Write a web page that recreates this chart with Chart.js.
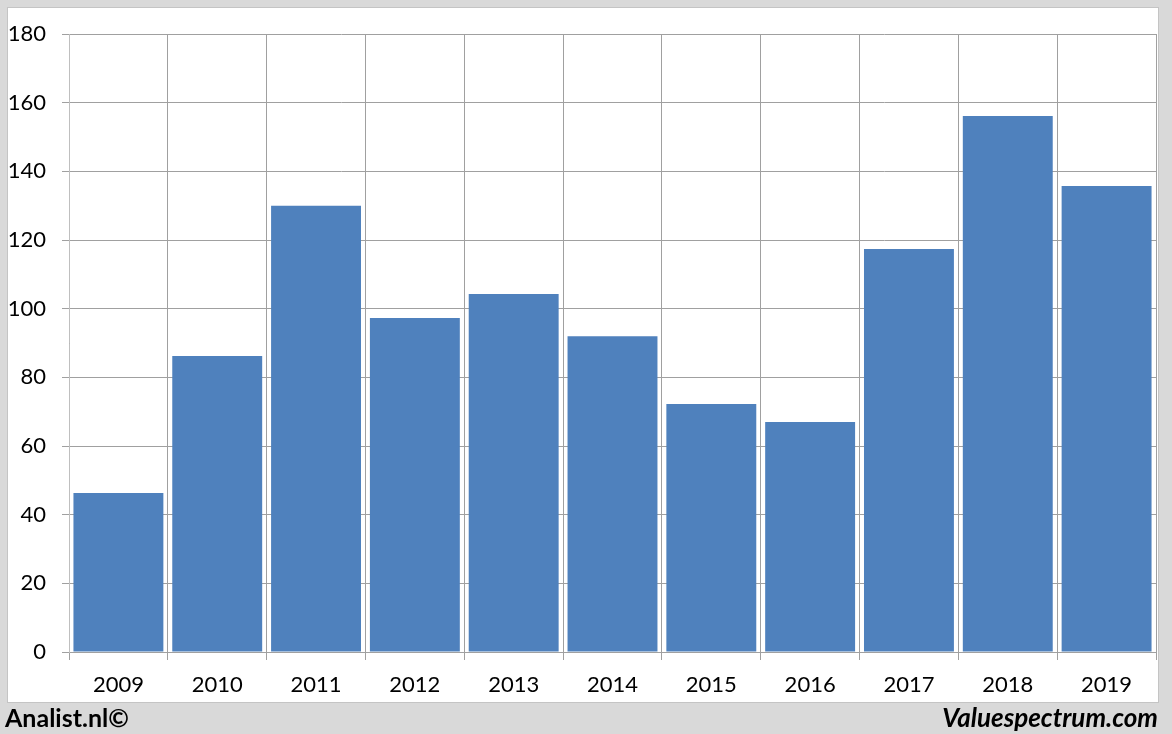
<!DOCTYPE html>
<html>
<head>
<meta charset="utf-8">
<script src="https://cdn.jsdelivr.net/npm/chart.js@4"></script>
<style>
  html, body { margin:0; padding:0; background:#d9d9d9; width:1172px; height:734px; overflow:hidden; }
  #panel { position:absolute; left:7px; top:7px; width:1150px; height:694px; background:#fff; border:1px solid #c4c4c4; }
  #wrap { position:absolute; left:0; top:0; width:1172px; height:734px; }
  .foot { position:absolute; font-family: Lato, "Open Sans", sans-serif; font-weight:bold; font-size:25px; color:#000; line-height:28px; }
  #left { left:5px; top:703px; }
  #right { right:14px; top:703px; font-style:italic; font-size:26px; }
</style>
</head>
<body>
<div id="panel"></div>
<div id="wrap"><canvas id="c" width="1172" height="734"></canvas></div>
<div class="foot" id="left">Analist.nl©</div>
<div class="foot" id="right">Valuespectrum.com</div>
<script>
const categories = ["2009","2010","2011","2012","2013","2014","2015","2016","2017","2018","2019"];
const values = [46.3, 86.2, 130.0, 97.3, 104.3, 92.0, 72.2, 67.0, 117.4, 156.1, 135.7];
const yTicks = [0, 20, 40, 60, 80, 100, 120, 140, 160, 180];

const font = { family: 'Lato, "Open Sans", sans-serif', size: 22 };

new Chart(document.getElementById('c'), {
  type: 'bar',
  data: {
    labels: categories,
    datasets: [{
      data: values,
      backgroundColor: '#4f81bd',
      borderWidth: 0,
      barPercentage: 0.91,
      categoryPercentage: 1.0
    }]
  },
  options: {
    responsive: false,
    animation: false,
    events: [],
    layout: { padding: { top: 34, right: 16, bottom: 32, left: 0 } },
    plugins: { legend: { display: false }, tooltip: { enabled: false } },
    scales: {
      x: {
        offset: true,
        grid: { offset: true, color: '#a0a0a0', lineWidth: 1, tickLength: 8, drawTicks: true },
        border: { color: '#a0a0a0' },
        ticks: { color: '#000', font: font, padding: 12, maxRotation: 0 },
        afterFit: s => { s.height = 50; }
      },
      y: {
        min: 0, max: 180,
        afterBuildTicks: s => { s.ticks = yTicks.map(v => ({ value: v })); },
        grid: { color: '#a0a0a0', lineWidth: 1, tickLength: 7 },
        border: { color: '#bfbfbf' },
        ticks: { color: '#000', font: font, padding: 16 },
        afterFit: s => { s.width = 69; }
      }
    }
  }
});
</script>
</body>
</html>
